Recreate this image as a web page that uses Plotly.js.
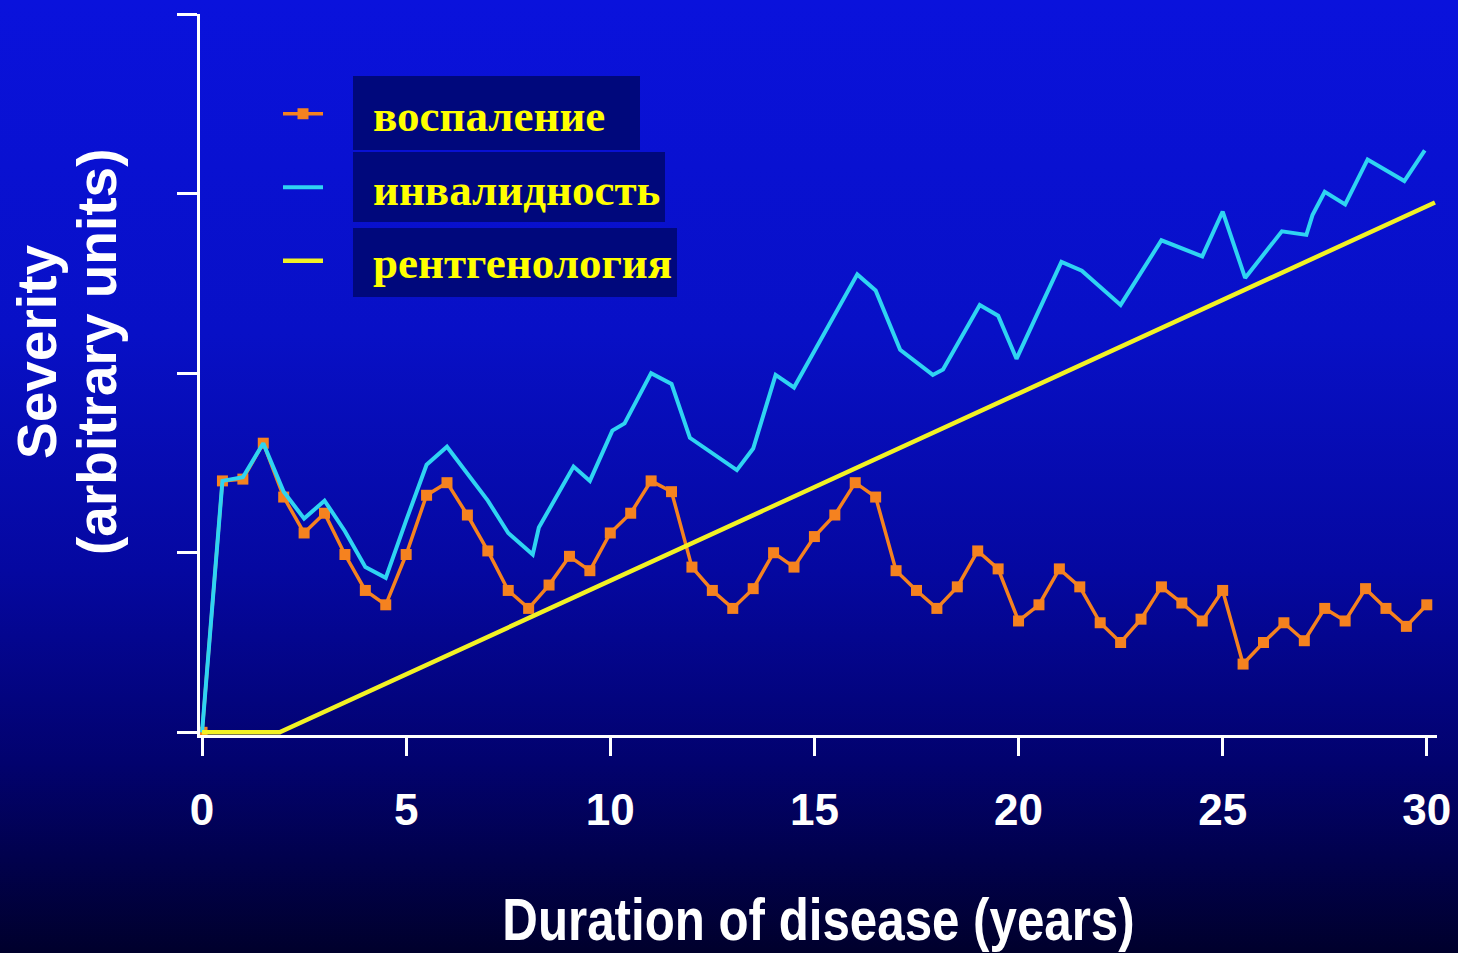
<!DOCTYPE html>
<html>
<head>
<meta charset="utf-8">
<script src="https://cdn.plot.ly/plotly-3.0.1.min.js"></script>
<style>
  html, body { margin: 0; padding: 0; width: 1458px; height: 953px; overflow: hidden; }
  body { background: linear-gradient(to bottom, #0a12dc 0%, #0810c6 35%, #0508a0 60%, #02026e 80%, #00002c 100%); }
  #chart { width: 1458px; height: 953px; }
  .xtitle { transform-box: fill-box; transform-origin: center; transform: scaleX(0.835); }
</style>
</head>
<body>
<div id="chart"></div>
<script>
// ---- data ----
const seriesNames = ["воспаление", "инвалидность", "рентгенология"];

const inflammationYears = [0,0.5,1,1.5,2,2.5,3,3.5,4,4.5,5,5.5,6,6.5,7,7.5,8,8.5,9,9.5,10,10.5,11,11.5,12,12.5,13,13.5,14,14.5,15,15.5,16,16.5,17,17.5,18,18.5,19,19.5,20,20.5,21,21.5,22,22.5,23,23.5,24,24.5,25,25.5,26,26.5,27,27.5,28,28.5,29,29.5,30];
const inflammation = [0,1.40,1.41,1.61,1.31,1.11,1.22,0.99,0.79,0.71,0.99,1.32,1.39,1.21,1.01,0.79,0.69,0.82,0.98,0.90,1.11,1.22,1.40,1.34,0.92,0.79,0.69,0.80,1.00,0.92,1.09,1.21,1.39,1.31,0.90,0.79,0.69,0.81,1.01,0.91,0.62,0.71,0.91,0.81,0.61,0.50,0.63,0.81,0.72,0.62,0.79,0.38,0.50,0.61,0.51,0.69,0.62,0.80,0.69,0.59,0.71];

const disabilityYears = [0,0.5,1,1.5,2,2.5,3,3.5,4,4.5,5,5.5,6,6.5,7,7.5,8.1,8.25,9.1,9.5,10.05,10.35,11,11.5,11.95,13.1,13.5,14.05,14.5,16.05,16.5,17.1,17.9,18.15,19.05,19.5,19.95,21.05,21.55,22.5,23.5,24.5,25,25.55,26.45,27.05,27.2,27.5,28,28.55,29.45,29.95];
const disability = [0,1.40,1.42,1.61,1.34,1.19,1.29,1.12,0.92,0.86,1.18,1.49,1.59,1.44,1.29,1.11,0.99,1.14,1.48,1.40,1.68,1.72,2.00,1.94,1.64,1.46,1.58,1.99,1.92,2.55,2.46,2.13,1.99,2.02,2.38,2.32,2.08,2.62,2.57,2.38,2.74,2.65,2.90,2.53,2.79,2.77,2.88,3.01,2.94,3.19,3.07,3.24];

const radiologyYears = [0, 1.9, 30.2];
const radiology = [0, 0, 2.95];

const xTicks = [0,5,10,15,20,25,30];
const xTickLabels = ["0","5","10","15","20","25","30"];
const yTicks = [0,1,2,3,4];

const xTitle = "Duration of disease (years)";
const yTitleLines = ["Severity", "(arbitrary units)"];

// ---- helpers for placing paper-coordinate items ----
const W = 1458, H = 953;
const M = {l: 200, r: 21, t: 14, b: 218};
const pw = W - M.l - M.r, ph = H - M.t - M.b;
const px2x = p => (p - M.l) / pw;
const py2y = p => (H - M.b - p) / ph;

const sans = '"Liberation Sans", Arial, sans-serif';
const serif = '"Liberation Serif", "Times New Roman", serif';
const pad = '\u00a0\u00a0\u00a0\u00a0';

const traces = [
  {
    x: inflammationYears, y: inflammation, name: pad + seriesNames[0], type: 'scatter', mode: 'lines+markers',
    line: {color: '#f5821f', width: 3.5},
    marker: {symbol: 'square', size: 11, color: '#f5821f'},
    legendgroup: 'a'
  },
  {
    x: disabilityYears, y: disability, name: pad + seriesNames[1], type: 'scatter', mode: 'lines',
    line: {color: '#2fd4f2', width: 4},
    legendgroup: 'b'
  },
  {
    x: radiologyYears, y: radiology, name: pad + seriesNames[2], type: 'scatter', mode: 'lines',
    line: {color: '#f2f224', width: 4.5},
    legendgroup: 'c'
  }
];

// legend background boxes (pixel rectangles -> paper)
const boxes = [[353, 76, 640, 150], [353, 152, 665, 222], [353, 228, 677, 297]];
const shapes = boxes.map(b => ({
  type: 'rect', xref: 'paper', yref: 'paper', layer: 'below',
  x0: px2x(b[0]), x1: px2x(b[2]), y0: py2y(b[3]), y1: py2y(b[1]),
  fillcolor: '#00087c', line: {width: 0}
}));

const yFont = {family: sans, size: 55, color: '#ffffff', weight: 'bold'};
const annotations = [
  {text: yTitleLines[0], xref: 'paper', yref: 'paper', x: px2x(37), y: py2y(352), textangle: -90,
   showarrow: false, xanchor: 'center', yanchor: 'middle', font: yFont},
  {text: yTitleLines[1], xref: 'paper', yref: 'paper', x: px2x(97), y: py2y(352), textangle: -90,
   showarrow: false, xanchor: 'center', yanchor: 'middle', font: yFont}
];

const layout = {
  width: W, height: H,
  margin: M,
  paper_bgcolor: 'rgba(0,0,0,0)', plot_bgcolor: 'rgba(0,0,0,0)',
  showlegend: true,
  legend: {
    x: px2x(278), y: py2y(78), xanchor: 'left', yanchor: 'top',
    bgcolor: 'rgba(0,0,0,0)', traceorder: 'grouped', tracegroupgap: 12,
    itemwidth: 40,
    font: {family: serif, size: 45, color: '#ffff00', weight: 'bold'}
  },
  xaxis: {
    range: [-0.05, 30.25], tickvals: xTicks, ticktext: xTickLabels,
    showgrid: false, zeroline: false, showline: true, linecolor: '#ffffff', linewidth: 3,
    ticks: 'outside', ticklen: 18, tickwidth: 3, tickcolor: '#ffffff',
    ticklabelstandoff: 16,
    tickfont: {family: sans, size: 44, color: '#ffffff', weight: 'bold'},
    title: {text: xTitle, font: {family: sans, size: 59, color: '#ffffff', weight: 'bold'}, standoff: 78},
    layer: 'below traces'
  },
  yaxis: {
    range: [-0.015, 4], tickvals: yTicks, showticklabels: false,
    showgrid: false, zeroline: false, showline: true, linecolor: '#ffffff', linewidth: 3,
    ticks: 'outside', ticklen: 20, tickwidth: 3, tickcolor: '#ffffff',
    layer: 'below traces'
  },
  shapes: shapes,
  annotations: annotations
};

Plotly.newPlot('chart', traces, layout, {displayModeBar: false, staticPlot: true});
</script>
</body>
</html>
